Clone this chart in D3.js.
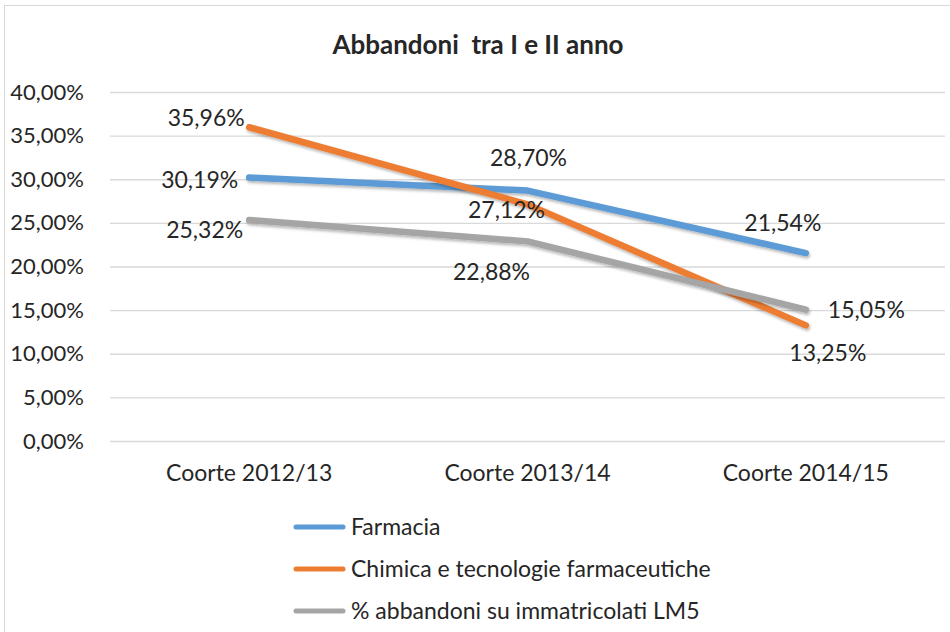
<!DOCTYPE html>
<html><head><meta charset="utf-8">
<script src="https://cdn.jsdelivr.net/npm/d3@7"></script>
<style>body{margin:0;background:#fff;} text{font-family:Lato,"Open Sans",sans-serif;fill:#262626;}</style>
</head><body>
<svg id="c" width="950" height="632"></svg>
<script>
const categories = ["Coorte 2012/13", "Coorte 2013/14", "Coorte 2014/15"];
const seriesNames = ["Farmacia", "Chimica e tecnologie farmaceutiche", "% abbandoni su immatricolati LM5"];
const farmacia = [30.19, 28.70, 21.54];
const chimica = [35.96, 27.12, 13.25];
const lm5 = [25.32, 22.88, 15.05];
const yTicks = [0, 5, 10, 15, 20, 25, 30, 35, 40];
const colors = ["#5B9BD5", "#ED7D31", "#A5A5A5"];
const title = "Abbandoni  tra I e II anno";

const svg = d3.select("#c");
svg.append("rect").attr("x",4.5).attr("y",5.5).attr("width",960).attr("height",640)
  .attr("fill","#fff").attr("stroke","#d9d9d9");

const pL = 110, pR = 945, pT = 92, pB = 441;
const x = d3.scaleBand().domain(categories).range([pL, pR]);
const y = d3.scaleLinear().domain([0, 40]).range([pB, pT]);
const fmt = v => d3.format(".2f")(v).replace(".", ",") + "%";

svg.append("text").attr("x", 478).attr("y", 54).attr("text-anchor","middle")
  .style("font-size","26px").style("font-weight","bold")
  .attr("xml:space","preserve").text(title);

const ya = svg.append("g").attr("transform",`translate(${pL},0)`)
  .call(d3.axisLeft(y).tickValues(yTicks).tickSize(-(pR-pL)).tickFormat(fmt).tickPadding(26));
ya.select(".domain").remove();
ya.selectAll("line").attr("stroke","#d9d9d9").attr("stroke-width",1.3);
ya.selectAll("text").style("font-size","22px").style("fill","#262626").style("font-family","Lato");

const xa = svg.append("g").attr("transform",`translate(0,${pB})`)
  .call(d3.axisBottom(x).tickSize(0).tickPadding(24));
xa.select(".domain").remove();
xa.selectAll("text").style("font-size","23px").style("fill","#262626").style("font-family","Lato");

const data = [farmacia, chimica, lm5];
const line = d3.line().x((d,i)=>x(categories[i])+x.bandwidth()/2).y(d=>y(d));
const defs = svg.append("defs");
defs.append("filter").attr("id","sh").attr("x","-10%").attr("y","-10%").attr("width","120%").attr("height","140%")
  .html('<feDropShadow dx="1" dy="2" stdDeviation="1.5" flood-color="#000" flood-opacity="0.3"/>');
data.forEach((s,k)=>{
  svg.append("path").datum(s).attr("d",line).attr("fill","none")
    .attr("stroke",colors[k]).attr("stroke-width",6.5).attr("stroke-linecap","round").attr("stroke-linejoin","round")
    .attr("filter","url(#sh)");
});

// label offsets [dx, dy, anchor]
const offs = [
  [[-11,10,"end"],[1,-25,"middle"],[-23,-22,"middle"]],
  [[-43,-1,"middle"],[-21,14,"middle"],[22,36,"middle"]],
  [[-6,18,"end"],[-36,39,"middle"],[22,8,"start"]]
];
data.forEach((s,k)=>{
  s.forEach((v,i)=>{
    const o = offs[k][i];
    svg.append("text").attr("x", x(categories[i])+x.bandwidth()/2 + o[0]).attr("y", y(v)+o[1])
      .attr("text-anchor",o[2]).style("font-size","23px").text(fmt(v));
  });
});

const lg = svg.append("g");
seriesNames.forEach((n,k)=>{
  const yy = 527 + k*42;
  lg.append("line").attr("x1",296).attr("x2",343).attr("y1",yy).attr("y2",yy)
    .attr("stroke",colors[k]).attr("stroke-width",5).attr("stroke-linecap","round");
  lg.append("text").attr("x",351).attr("y",yy+8).style("font-size","23px").text(n);
});
</script>
</body></html>
